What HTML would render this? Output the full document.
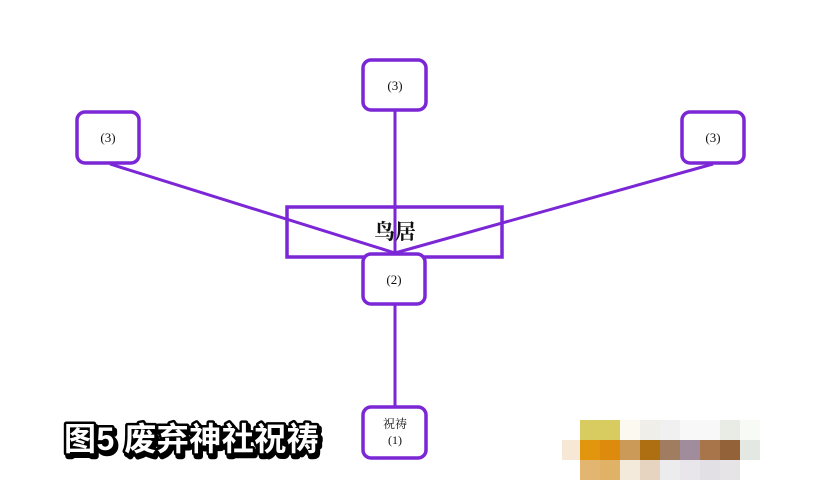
<!DOCTYPE html>
<html><head><meta charset="utf-8"><style>
html,body{margin:0;padding:0;background:#fff;}
body{width:823px;height:503px;overflow:hidden;position:relative;}
svg{position:absolute;left:0;top:0;}
</style></head><body>
<svg width="823" height="503" viewBox="0 0 823 503" xmlns="http://www.w3.org/2000/svg">
<g stroke="#7b27d6" stroke-width="3" fill="none">
<line x1="110" y1="164" x2="395" y2="253"/>
<line x1="713" y1="164" x2="395" y2="253"/>
<line x1="395" y1="111" x2="395" y2="406"/>
</g>
<g stroke="#7b27d6" stroke-width="3.5" fill="#fff">
<rect x="287" y="207" width="215" height="50" fill="none"/>
<rect x="363" y="60" width="63" height="50" rx="8"/>
<rect x="77" y="112" width="62" height="51" rx="8"/>
<rect x="682" y="112" width="62" height="51" rx="8"/>
<rect x="363" y="254" width="62" height="50" rx="8"/>
<rect x="363" y="407" width="63" height="51" rx="8"/>
</g>
<g font-family="'Liberation Serif','Noto Serif CJK SC',serif" fill="#111" text-anchor="middle">
<text x="395" y="90" font-size="13">(3)</text>
<text x="108" y="142" font-size="13">(3)</text>
<text x="713" y="142" font-size="13">(3)</text>
<text x="394" y="284" font-size="13">(2)</text>
<text x="395" y="239" font-size="21" font-weight="bold">鸟居</text>
<text x="395" y="428" font-size="12">祝祷</text>
<text x="395" y="444" font-size="12">(1)</text>
</g>
<g font-family="'Liberation Sans','Noto Sans CJK SC',sans-serif" font-weight="bold" font-size="32" letter-spacing="0.5">
<text x="64" y="450" fill="#000" stroke="#000" stroke-width="6" stroke-linejoin="round" transform="translate(2,3)">图5 废弃神社祝祷</text>
<text x="64" y="450" fill="#fff" stroke="#000" stroke-width="5" stroke-linejoin="round" paint-order="stroke">图5 废弃神社祝祷</text>
</g>
<g>
<rect x="580" y="420" width="20" height="20" fill="#d8cc60"/><rect x="600" y="420" width="20" height="20" fill="#d8cc60"/><rect x="620" y="420" width="20" height="20" fill="#fcfaf0"/><rect x="640" y="420" width="20" height="20" fill="#f0eee8"/><rect x="660" y="420" width="20" height="20" fill="#f0f0f0"/><rect x="680" y="420" width="20" height="20" fill="#f8f8f8"/><rect x="700" y="420" width="20" height="20" fill="#f8f8f8"/><rect x="720" y="420" width="20" height="20" fill="#e8ece4"/><rect x="740" y="420" width="20" height="20" fill="#f8faf6"/>
<rect x="562" y="440" width="18" height="20" fill="#f6e8d4"/><rect x="580" y="440" width="20" height="20" fill="#e2960e"/><rect x="600" y="440" width="20" height="20" fill="#de8a0c"/><rect x="620" y="440" width="20" height="20" fill="#cc9a58"/><rect x="640" y="440" width="20" height="20" fill="#ae6e12"/><rect x="660" y="440" width="20" height="20" fill="#a07c60"/><rect x="680" y="440" width="20" height="20" fill="#a08c9a"/><rect x="700" y="440" width="20" height="20" fill="#a8744a"/><rect x="720" y="440" width="20" height="20" fill="#946238"/><rect x="740" y="440" width="20" height="20" fill="#e4e8e2"/>
<rect x="580" y="460" width="20" height="20" fill="#e2b670"/><rect x="600" y="460" width="20" height="20" fill="#e0b268"/><rect x="620" y="460" width="20" height="20" fill="#f4eadc"/><rect x="640" y="460" width="20" height="20" fill="#e6d4c0"/><rect x="660" y="460" width="20" height="20" fill="#ececee"/><rect x="680" y="460" width="20" height="20" fill="#e8e6ea"/><rect x="700" y="460" width="20" height="20" fill="#e2e0e4"/><rect x="720" y="460" width="20" height="20" fill="#e6e4e6"/>
</g>
</svg>
</body></html>
